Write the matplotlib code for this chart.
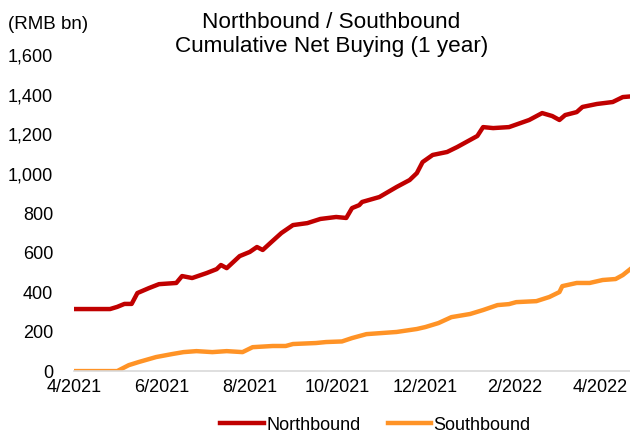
import pandas as pd
import matplotlib
matplotlib.use("Agg")
import matplotlib.pyplot as plt
from matplotlib.ticker import FuncFormatter

plt.rcParams["font.family"] = ["Liberation Sans", "DejaVu Sans"]

# Northbound cumulative net buying (RMB bn)
north_dates = ["2021-04-01", "2021-04-26", "2021-05-01", "2021-05-06", "2021-05-11",
               "2021-05-15", "2021-05-23", "2021-05-30", "2021-06-11", "2021-06-15",
               "2021-06-22", "2021-07-02", "2021-07-09", "2021-07-12", "2021-07-16",
               "2021-07-25", "2021-08-01", "2021-08-06", "2021-08-10", "2021-08-16",
               "2021-08-23", "2021-08-31", "2021-09-10", "2021-09-19", "2021-09-30",
               "2021-10-07", "2021-10-11", "2021-10-16", "2021-10-18", "2021-10-30",
               "2021-11-11", "2021-11-20", "2021-11-25", "2021-11-29", "2021-12-06",
               "2021-12-16", "2021-12-23", "2022-01-01", "2022-01-06", "2022-01-10",
               "2022-01-17", "2022-01-28", "2022-02-11", "2022-02-20", "2022-02-27",
               "2022-03-04", "2022-03-08", "2022-03-16", "2022-03-20", "2022-03-30",
               "2022-04-10", "2022-04-17", "2022-04-22"]
north_vals = [314, 314, 325, 340, 340,
              395, 420, 440, 446, 481,
              471, 496, 516, 537, 521,
              582, 603, 628, 613, 653,
              699, 739, 749, 770, 780,
              775, 825, 840, 856, 881,
              932, 967, 1002, 1058, 1094,
              1109, 1134, 1170, 1190, 1235,
              1230, 1235, 1271, 1306, 1291,
              1271, 1296, 1311, 1337, 1352,
              1362, 1387, 1390]

# Southbound cumulative net buying (RMB bn)
south_dates = ["2021-04-01", "2021-05-01", "2021-05-09", "2021-05-16", "2021-05-28",
               "2021-06-08", "2021-06-16", "2021-06-25", "2021-07-06", "2021-07-16",
               "2021-07-27", "2021-08-03", "2021-08-17", "2021-08-26", "2021-08-31",
               "2021-09-16", "2021-09-23", "2021-10-04", "2021-10-11", "2021-10-21",
               "2021-11-11", "2021-11-25", "2021-12-01", "2021-12-10", "2021-12-19",
               "2022-01-01", "2022-01-10", "2022-01-20", "2022-01-28", "2022-02-02",
               "2022-02-16", "2022-02-25", "2022-03-04", "2022-03-06", "2022-03-16",
               "2022-03-25", "2022-04-03", "2022-04-12", "2022-04-17", "2022-04-22"]
south_vals = [0, 0, 30, 46, 71,
              86, 96, 101, 96, 101,
              96, 121, 127, 127, 137,
              142, 147, 150, 167, 187,
              198, 213, 223, 243, 273,
              289, 309, 334, 339, 349,
              354, 375, 400, 430, 446,
              446, 461, 466, 486, 515]

north = pd.Series(north_vals, index=pd.to_datetime(north_dates))
south = pd.Series(south_vals, index=pd.to_datetime(south_dates))

fig = plt.figure(figsize=(6.3, 4.33), dpi=100)
ax = fig.add_axes([0.1175, 0.143, 0.8825, 0.73])

ax.plot(north.index, north.values, color="#C00000", linewidth=3.2, label="Northbound")
ax.plot(south.index, south.values, color="#FF9326", linewidth=3.2, label="Southbound")

ax.set_xlim(pd.Timestamp("2021-04-01"), pd.Timestamp("2022-04-22"))
ax.set_ylim(0, 1600)
ax.set_yticks(range(0, 1601, 200))
ax.yaxis.set_major_formatter(FuncFormatter(lambda v, p: f"{int(v):,}"))

ticks = pd.date_range("2021-04-01", "2022-04-01", freq="2MS")
ax.set_xticks(ticks)
ax.set_xticklabels([f"{d.month}/{d.year}" for d in ticks])

for s in ["top", "right", "left"]:
    ax.spines[s].set_visible(False)
ax.spines["bottom"].set_color("#D9D9D9")
ax.spines["bottom"].set_linewidth(1.2)
ax.tick_params(axis="both", length=0, labelsize=13, colors="black")
ax.tick_params(axis="y", pad=15)
ax.tick_params(axis="x", pad=6)

fig.text(0.526, 0.972, "Northbound / Southbound\nCumulative Net Buying (1 year)",
         ha="center", va="top", fontsize=16.2, linespacing=1.2)
fig.text(0.012, 0.944, "(RMB bn)", ha="left", va="center", fontsize=13.5)

fig.legend(loc="center", bbox_to_anchor=(0.596, 0.018), ncol=2, frameon=False,
           fontsize=13, handlelength=2.4, handletextpad=0.15, columnspacing=1.5)

fig.savefig("out.png", dpi=100)
